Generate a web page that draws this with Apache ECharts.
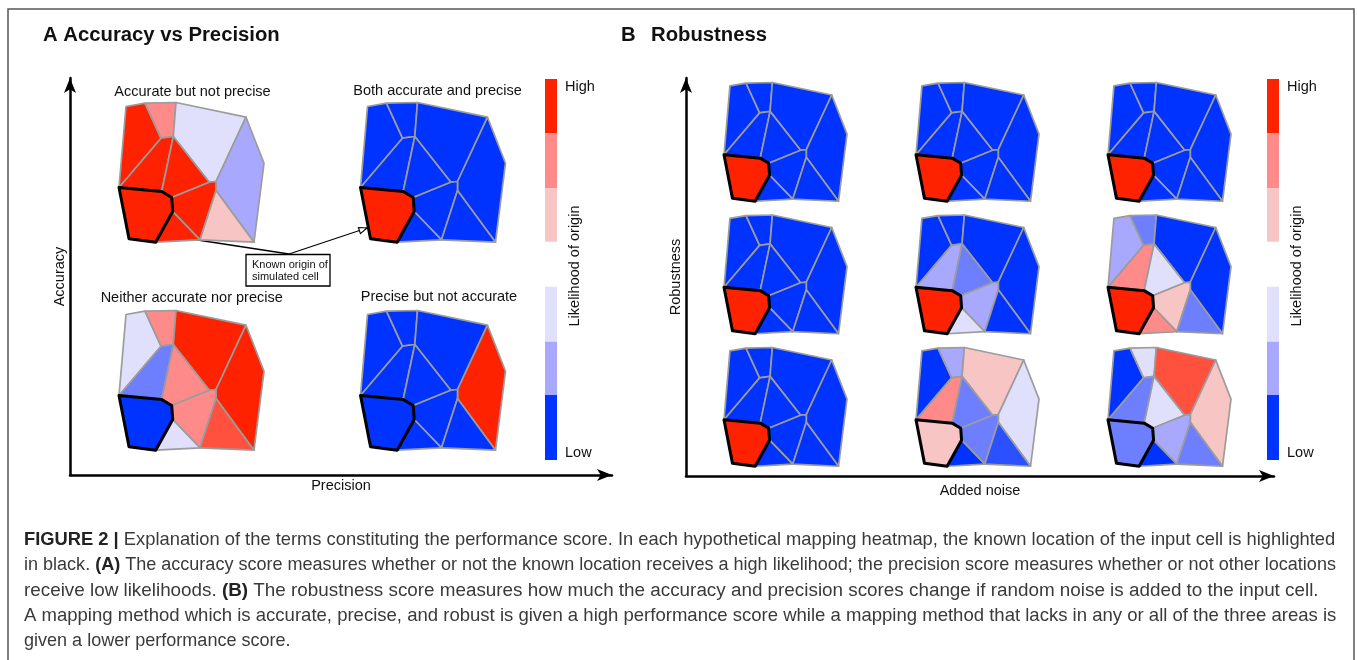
<!DOCTYPE html>
<html><head><meta charset="utf-8">
<script src="https://cdn.jsdelivr.net/npm/echarts@6/dist/echarts.min.js"></script>
<style>html,body{margin:0;padding:0;background:#fff}#c{width:1357px;height:660px}</style>
</head><body><div id="c"></div>
<script>
// ---- mesh of the hypothetical mapping (shared by every heatmap), local units ----
const vertexNames = ['A','B','C','D','E','F','G','H','I','J','K','L','M1','M2','R','O','P','Q'];
const vertexX = [7, 26, 57, 127, 145, 135, 81, 36.7, 10, 0, 42, 54.3, 90.3, 97, 97, 42.7, 52.7, 53.7];
const vertexY = [4, 0.7, 0, 14.7, 60.7, 139.7, 137.3, 139.7, 136.3, 85, 35.7, 34, 79.7, 79, 88, 89, 95, 109];
const cellNames = ['topLeft','topPink','topRight','right','midLeft','center','lowerCenter','bottomRight','bottomTri','knownOrigin'];
const cellVertices = [
  ['A','B','K','J'],
  ['B','C','L','K'],
  ['C','D','M2','M1','L'],
  ['D','E','F','R','M2'],
  ['J','K','L','O'],
  ['L','M1','P','O'],
  ['P','M1','M2','R','G','Q'],
  ['R','F','G'],
  ['Q','G','H'],
  ['J','O','P','Q','H','I']
];

// ---- likelihood of origin per cell (0 = low, 1 = high), order as cellNames ----
const accurateNotPrecise = [1, 0.8, 0.4, 0.2, 1, 1, 1, 0.6, 1, 1];
const accurateAndPrecise = [0, 0, 0, 0, 0, 0, 0, 0, 0, 1];
const neitherAccurateNorPrecise = [0.4, 0.8, 1, 1, 0.13, 0.8, 0.8, 0.91, 0.4, 0];
const preciseNotAccurate = [0, 0, 0, 1, 0, 0, 0, 0, 0, 0];

const robust_r1c1 = [0, 0, 0, 0, 0, 0, 0, 0, 0, 1];
const robust_r1c2 = [0, 0, 0, 0, 0, 0, 0, 0, 0, 1];
const robust_r1c3 = [0, 0, 0, 0, 0, 0, 0, 0, 0, 1];
const robust_r2c1 = [0, 0, 0, 0, 0, 0, 0, 0, 0, 1];
const robust_r2c2 = [0, 0, 0, 0, 0.2, 0.13, 0.2, 0, 0.4, 1];
const robust_r2c3 = [0.2, 0.13, 0, 0, 0.8, 0.4, 0.6, 0.13, 0.8, 1];
const robust_r3c1 = [0, 0, 0, 0, 0, 0, 0, 0, 0, 1];
const robust_r3c2 = [0, 0.2, 0.6, 0.4, 0.8, 0.13, 0.13, 0.05, 0, 0.6];
const robust_r3c3 = [0, 0.4, 0.91, 0.6, 0.13, 0.4, 0.2, 0.13, 0, 0.13];

const panelTitlesA = ['Accurate but not precise', 'Both accurate and precise', 'Neither accurate nor precise', 'Precise but not accurate'];
const likelihoodPalette = ['#0033ff', '#a8a8ff', '#e0e0fd', '#f8c5c5', '#ff8a8a', '#ff2200'];
const colorbarLabels = ['High', 'Low'];

// ---- layout ----
const FONT = '"Liberation Sans", Arial, Helvetica, sans-serif';
const panels = [
  {values: accurateNotPrecise, left: 119, top: 102.5, w: 145, h: 140},
  {values: accurateAndPrecise, left: 360.5, top: 102.5, w: 145, h: 140},
  {values: neitherAccurateNorPrecise, left: 119, top: 310.5, w: 145, h: 140},
  {values: preciseNotAccurate, left: 360.5, top: 310.5, w: 145, h: 140}
];
const bLeft = [724, 916, 1108], bTop = [82.5, 215, 347.5];
const robustGrid = [[robust_r1c1, robust_r1c2, robust_r1c3],[robust_r2c1, robust_r2c2, robust_r2c3],[robust_r3c1, robust_r3c2, robust_r3c3]];
for (let r = 0; r < 3; r++) for (let c = 0; c < 3; c++)
  panels.push({values: robustGrid[r][c], left: bLeft[c], top: bTop[r], w: 123, h: 119});

function vertex(name) { const k = vertexNames.indexOf(name); return [vertexX[k], vertexY[k]]; }

function renderCell(params, api) {
  const ci = api.value(0);
  const pts = cellVertices[ci].map(n => api.coord(vertex(n)));
  const known = ci === cellVertices.length - 1;
  return {
    type: 'polygon', shape: {points: pts}, z2: known ? 10 : 1,
    style: {fill: api.visual('color'), stroke: known ? '#000' : '#9c9c9c', lineWidth: known ? 3 : 1.7, lineJoin: 'round'}
  };
}

const grid = [], xAxis = [], yAxis = [], series = [];
panels.forEach((p, i) => {
  grid.push({left: p.left, top: p.top, width: p.w, height: p.h, show: false});
  xAxis.push({type: 'value', gridIndex: i, min: 0, max: 145, show: false});
  yAxis.push({type: 'value', gridIndex: i, min: 0, max: 140, inverse: true, show: false});
  series.push({type: 'custom', xAxisIndex: i, yAxisIndex: i, renderItem: renderCell,
    data: p.values.map((v, k) => [k, v]), silent: true});
});

// axis frames with arrows
function axisPair(idx, left, top, width, height, xName, yName, xGap, yGap) {
  grid.push({left, top, width, height, show: false});
  const line = {show: true, onZero: false, symbol: ['none', 'arrow'], symbolSize: [9, 15], lineStyle: {color: '#000', width: 2.5}};
  const common = {min: 0, max: 1, axisTick: {show: false}, axisLabel: {show: false}, splitLine: {show: false}};
  xAxis.push(Object.assign({type: 'value', gridIndex: idx, axisLine: line, name: xName, nameLocation: 'middle', nameGap: xGap,
    nameTextStyle: {fontFamily: FONT, fontSize: 14.5, color: '#111'}}, common));
  yAxis.push(Object.assign({type: 'value', gridIndex: idx, axisLine: line, name: yName, nameLocation: 'middle', nameGap: yGap,
    nameTextStyle: {fontFamily: FONT, fontSize: 14.5, color: '#111'}}, common));
}
axisPair(panels.length, 70, 78, 542, 397, 'Precision', 'Accuracy', 3, 3);
axisPair(panels.length + 1, 686, 78, 588, 398, 'Added noise', 'Robustness', 7, 3);

// ---- graphic annotations ----
const g = [];
function text(x, y, s, opts) {
  g.push(Object.assign({type: 'text', x, y, silent: true, style: Object.assign({text: s, font: '14.5px ' + FONT, fill: '#111', textAlign: 'center', textVerticalAlign: 'middle'}, opts && opts.style || {})},
    opts && opts.rotation ? {rotation: opts.rotation} : {}));
}
g.push({type: 'rect', shape: {x: 8, y: 9, width: 1346, height: 670}, style: {fill: 'none', stroke: '#555', lineWidth: 1.5}, silent: true});
text(43, 35, 'A Accuracy vs Precision', {style: {font: 'bold 20.3px ' + FONT, textAlign: 'left'}});
text(621, 35, 'B', {style: {font: 'bold 20.3px ' + FONT, textAlign: 'left'}});
text(651, 35, 'Robustness', {style: {font: 'bold 20.3px ' + FONT, textAlign: 'left'}});
const subPos = [[192.5, 92], [437.5, 91], [191.7, 298], [439, 297]];
panelTitlesA.forEach((t, i) => text(subPos[i][0], subPos[i][1], t));

// colorbars
const cbY = [[79, 133.3], [133.3, 188.3], [188.3, 241.7], [286.7, 341.7], [341.7, 395], [395, 460]];
[[545, 565, 575], [1267, 1287, 1297]].forEach(([bx, lx, tx]) => {
  for (let k = 0; k < 6; k++) {
    const col = likelihoodPalette[5 - k];
    g.push({type: 'rect', silent: true, shape: {x: bx, y: cbY[k][0], width: 12, height: cbY[k][1] - cbY[k][0]}, style: {fill: col}});
  }
  text(lx, 86.5, colorbarLabels[0], {style: {textAlign: 'left'}});
  text(lx, 453, colorbarLabels[1], {style: {textAlign: 'left'}});
  text(tx, 266, 'Likelihood of origin', {rotation: Math.PI / 2});
});

// annotation box with arrows
function arrow(x1, y1, x2, y2) {
  g.push({type: 'line', silent: true, shape: {x1, y1, x2, y2}, style: {stroke: '#000', lineWidth: 1.3}});
  const a = Math.atan2(y2 - y1, x2 - x1), L = 8, W = 3.2;
  const bx = x2 - L * Math.cos(a), by = y2 - L * Math.sin(a);
  g.push({type: 'polygon', silent: true, shape: {points: [[x2, y2], [bx - W * Math.sin(a), by + W * Math.cos(a)], [bx + W * Math.sin(a), by - W * Math.cos(a)]]},
    style: {fill: '#fff', stroke: '#000', lineWidth: 1.1}});
}
arrow(289, 254, 165, 235);
arrow(289, 254, 367, 228);
g.push({type: 'rect', silent: true, shape: {x: 246, y: 254.5, width: 84, height: 31.5}, style: {fill: '#fff', stroke: '#000', lineWidth: 1.3}});
text(252, 265, 'Known origin of', {style: {font: '11px ' + FONT, textAlign: 'left'}});
text(252, 277, 'simulated cell', {style: {font: '11px ' + FONT, textAlign: 'left'}});

// caption
const captionLines = [
  '{b|FIGURE 2 |} Explanation of the terms constituting the performance score. In each hypothetical mapping heatmap, the known location of the input cell is highlighted',
  'in black. {b|(A)} The accuracy score measures whether or not the known location receives a high likelihood; the precision score measures whether or not other locations',
  'receive low likelihoods. {b|(B)} The robustness score measures how much the accuracy and precision scores change if random noise is added to the input cell.',
  'A mapping method which is accurate, precise, and robust is given a high performance score while a mapping method that lacks in any or all of the three areas is',
  'given a lower performance score.'
];
const captionSizes = [18.33, 18.05, 18.85, 18.55, 18.05];
captionLines.forEach((t, i) => {
  const fs = captionSizes[i];
  g.push({type: 'text', silent: true, x: 24, y: 540 + i * 25.3, style: {text: t, font: fs + 'px ' + FONT, fill: '#3a3a3a', textAlign: 'left', textVerticalAlign: 'middle',
    rich: {b: {font: 'bold ' + fs + 'px ' + FONT, fill: '#222'}}}});
});

const chart = echarts.init(document.getElementById('c'));
chart.setOption({
  animation: false,
  backgroundColor: '#fff',
  grid, xAxis, yAxis, series,
  visualMap: {type: 'continuous', show: false, min: 0, max: 1, dimension: 1,
    seriesIndex: panels.map((p, i) => i), inRange: {color: likelihoodPalette}},
  graphic: g
});
</script></body></html>
